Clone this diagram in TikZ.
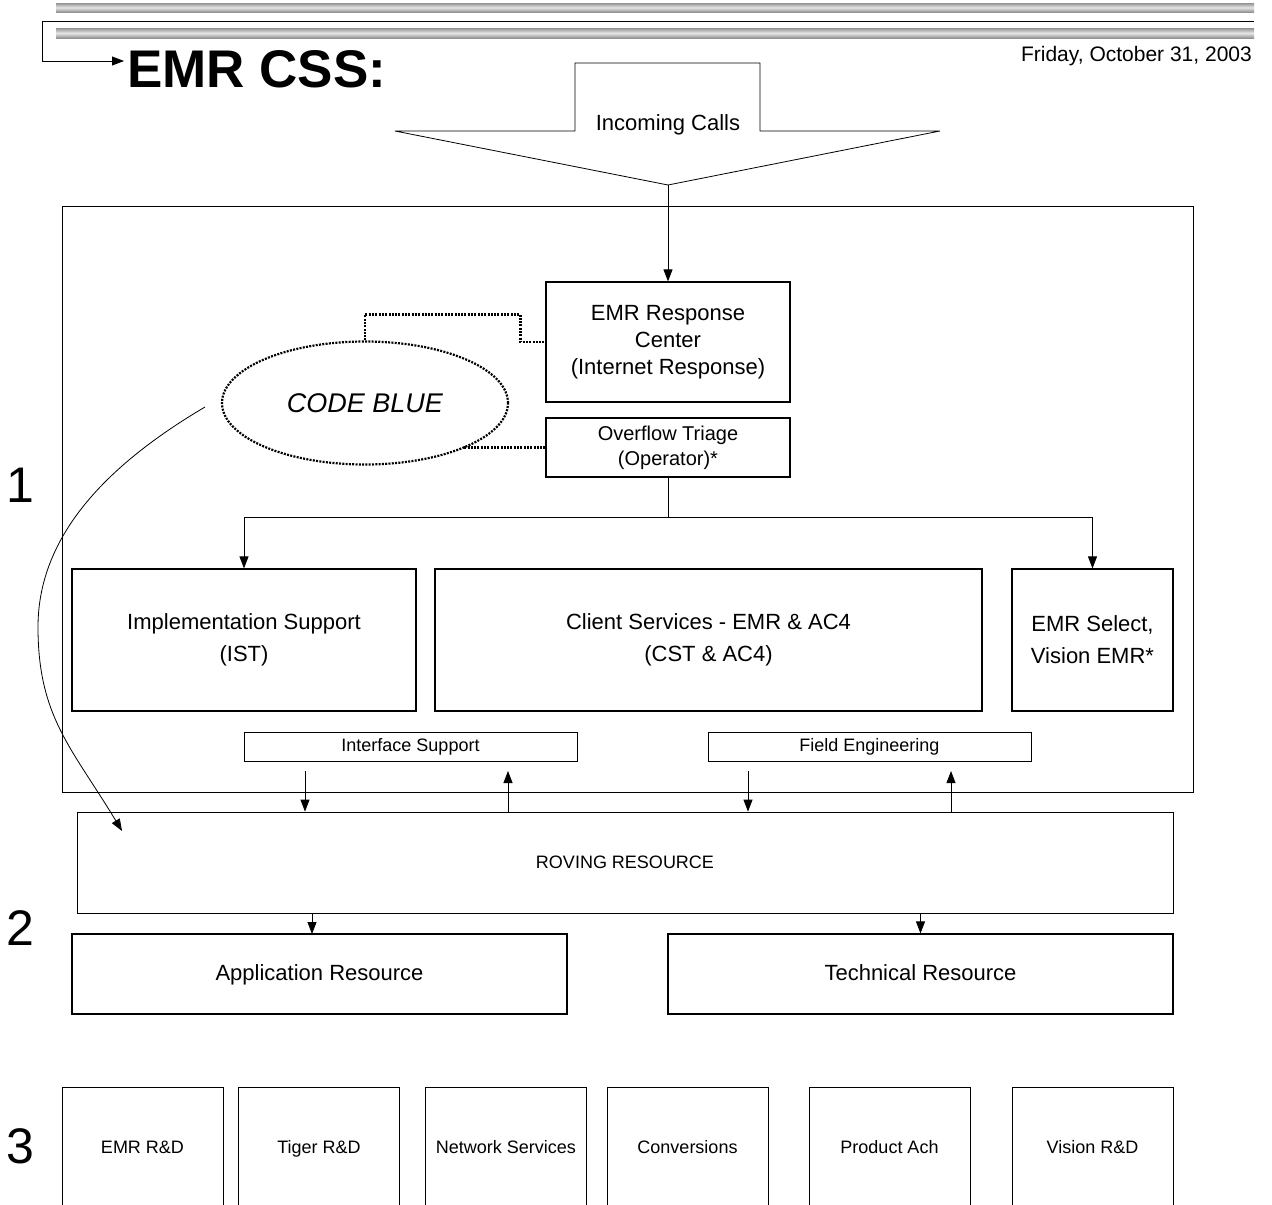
\documentclass[tikz,border=0pt]{standalone}
\usepackage{fontspec}
\setmainfont{Liberation Sans}
\usepackage{tikz}
\usetikzlibrary{calc}
\usetikzlibrary{shapes}
\usetikzlibrary{arrows.meta}

\tikzset{
  box/.style = {rectangle, draw = black, line width = 1.2pt, inner sep = 0pt, align = center, font = \fontsize{22}{27}\selectfont},
  bigbox/.style = {box, font = \fontsize{22}{32}\selectfont},
  thinbox/.style = {box, line width = 0.8pt, font = \fontsize{18}{22}\selectfont},
  labbox/.style = {thinbox, minimum height = 150pt, anchor = north, text height = 13pt, text depth = 31pt},
  link/.style = {-{Triangle[length = 12pt, width = 9pt]}, line width = 0.8pt},
  dotlink/.style = {line width = 2.2pt, dash pattern = on 2pt off 1.3pt},
  bar/.style = {top color = gray!85, bottom color = gray!85, middle color = gray!20},
  levelnum/.style = {font = \fontsize{50}{50}\selectfont, anchor = base west, inner sep = 0pt}
}

\begin{document}
\begin{tikzpicture}[x = 1pt, y = -1pt]
\useasboundingbox (0,0) rectangle (1272,1205);
% header
\shade[bar] (56,3) rectangle (1254,12);
\shade[bar] (56,28) rectangle (1254,38);
\draw (127,87) node[anchor = base west, inner sep = 0pt, font = \fontsize{53}{53}\selectfont\bfseries, name = title]{EMR CSS:};
\draw (1252,61) node[anchor = base east, inner sep = 0pt, font = \fontsize{21}{21}\selectfont, name = date]{Friday, October 31, 2003};
\coordinate (hdr) at (1254,21);
\coordinate (hdrend) at (124,61);
\draw[link] (hdr) -- (42,21) -- (42,61) -- (hdrend);
\draw (6,502) node[levelnum, name = lvl1]{1};
\draw (6,945) node[levelnum, name = lvl2]{2};
\draw (6,1163) node[levelnum, name = lvl3]{3};
% incoming calls
\draw[line width = 0.8pt] (395,131) -- (575,131) -- (575,63) -- (760,63) -- (760,131) -- (940,131) -- (668,185) -- cycle;
\coordinate (calltip) at (668,185);
\draw (668,125) node[font = \fontsize{22}{22}\selectfont, name = calls]{Incoming Calls};
% level 1
\draw (627.5,499) node[rectangle, draw = black, line width = 0.8pt, minimum width = 1131pt, minimum height = 586pt, name = lvlone]{};
\draw (668,342) node[box, minimum width = 244pt, minimum height = 120pt, name = emr]{EMR Response\\Center\\(Internet Response)};
\draw (emr) + (0,105.5) node[box, minimum width = 244pt, minimum height = 59pt, font = \fontsize{20}{25}\selectfont, name = ovt]{Overflow Triage\\(Operator)*};
\draw[link] (calltip) -- (emr.north);
\draw (365,403) node[ellipse, dotlink, draw = black, minimum width = 286pt, minimum height = 123pt, inner sep = 0pt, font = \fontsize{27}{27}\selectfont\itshape, name = code]{CODE BLUE};
\draw[dotlink] (code.north) -- ++(0,-26) -| ($(emr.west) + (-25,0)$) -- (emr.west);
\coordinate (codeedge) at ($(ovt.west) + (-82,0)$);
\draw[dotlink] (ovt.west) -- (codeedge);
\draw (244,640) node[bigbox, minimum width = 344pt, minimum height = 142pt, name = ist]{Implementation Support\\(IST)};
\draw (708.5,640) node[bigbox, minimum width = 547pt, minimum height = 142pt, name = cst]{Client Services - EMR \& AC4\\(CST \& AC4)};
\draw (1092.5,640) node[bigbox, minimum width = 161pt, minimum height = 142pt, name = sel]{EMR Select,\\Vision EMR*};
\draw (ovt.south) -- ++(0,40) coordinate (split);
\draw[link] (split) -| (ist.north);
\draw[link] (split) -| (sel.north);
\draw (410.5,746.5) node[thinbox, minimum width = 333pt, minimum height = 29pt, name = ifs]{Interface Support};
\draw (869.5,746.5) node[thinbox, minimum width = 323pt, minimum height = 29pt, name = fe]{Field Engineering};
% level 2
\draw (625,862.5) node[thinbox, minimum width = 1096pt, minimum height = 101pt, font = \fontsize{18}{18}\selectfont, name = rov]{ROVING RESOURCE};
\coordinate (ifsdown) at (305,771);
\coordinate (ifsup) at (508,771);
\coordinate (fedown) at (748,771);
\coordinate (feup) at (951,771);
\draw[link] (ifsdown) -- (ifsdown |- rov.north);
\draw[link] (ifsup |- rov.north) -- (ifsup);
\draw[link] (fedown) -- (fedown |- rov.north);
\draw[link] (feup |- rov.north) -- (feup);
\coordinate (codetail) at (205,407);
\coordinate (rovtip) at (122,831);
\draw[link] (codetail) .. controls (105,466) and (38,537) .. (38,627) .. controls (38,717) and (72,748) .. (rovtip);
\draw (319.5,974) node[box, minimum width = 495pt, minimum height = 80pt, text height = 16pt, text depth = 4pt, name = app]{Application Resource};
\draw (920.5,974) node[box, minimum width = 505pt, minimum height = 80pt, text height = 16pt, text depth = 4pt, name = tech]{Technical Resource};
\coordinate (appin) at (312,934);
\draw[link] (rov.south -| appin) -- (appin);
\draw[link] (rov.south -| tech.north) -- (tech.north);
% level 3
\foreach \nm/\cx/\txt in {emrrd/142.5/{EMR R\&D}, tigerrd/319/{Tiger R\&D}, netsvc/506/{Network Services}, conv/687.5/{Conversions}, prodach/889.5/{Product Ach}, visionrd/1092.5/{Vision R\&D}}
  \draw (\cx,1087) node[labbox, minimum width = 161pt, name = \nm]{\txt};
\end{tikzpicture}
\end{document}
